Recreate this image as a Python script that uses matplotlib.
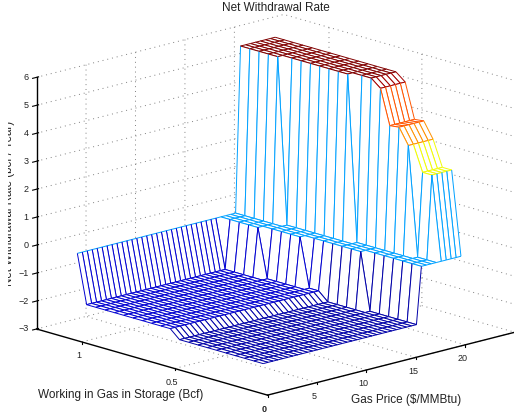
import matplotlib
matplotlib.use("Agg")
import matplotlib.pyplot as plt
import numpy as np
from matplotlib.transforms import Bbox
from mpl_toolkits.mplot3d import proj3d
from mpl_toolkits.mplot3d.art3d import Line3DCollection, Poly3DCollection

plt.rcParams['font.family'] = ['Liberation Sans', 'DejaVu Sans']

# grid
price = [2.0 + 0.5 * k for k in range(41)]
storage = [1.13, 1.08, 1.03, 0.98, 0.93, 0.88, 0.83, 0.78, 0.73, 0.68, 0.63,
           0.58, 0.53, 0.48, 0.43, 0.38, 0.33, 0.28, 0.23, 0.18, 0.13]

# per storage row: level of the floor, price where the floor ends,
# price where the upper shelf starts and the level of that shelf
floor_level = [-0.26, -2.0, -2.0, -2.0, -2.0, -2.0, -2.0, -2.0, -2.0, -2.0, -2.0,
               -2.3, -2.3, -2.3, -2.3, -2.3, -2.3, -2.3, -2.3, -2.3, -2.3]
floor_end = [16.0, 16.0, 16.0, 16.0, 16.0, 16.5, 16.5, 16.5, 16.5, 17.0, 17.0,
             17.0, 17.0, 17.0, 17.0, 17.5, 17.5, 17.5, 17.5, 17.5, 17.5]
shelf_start = [18.5, 18.5, 18.5, 18.5, 18.5, 19.0, 19.0, 19.0, 19.0, 19.0, 19.0,
               19.0, 19.5, 19.5, 19.5, 19.5, 19.5, 19.5, 20.0, 20.0, 22.5]
shelf_level = [5.67, 5.67, 5.67, 5.67, 5.67, 5.67, 5.67, 5.67, 5.67, 5.67, 5.67,
               5.67, 5.67, 5.67, 5.4, 4.16, 4.2, 3.64, 2.73, 2.73, -0.26]
ledge_level = -0.26

x_ticks = [5, 10, 15, 20]
x_tick_labels = ['5', '10', '15', '20']
y_ticks = [0, 0.5, 1]
y_tick_labels = ['0', '0.5', '1']
z_ticks = [-3, -2, -1, 0, 1, 2, 3, 4, 5, 6]
z_tick_labels = ['\u22123', '\u22122', '\u22121', '0', '1', '2', '3', '4', '5', '6']


def build_rate():
    rate = np.zeros((len(storage), len(price)))
    for i in range(len(storage)):
        for j, p in enumerate(price):
            if p <= floor_end[i]:
                rate[i, j] = floor_level[i]
            elif p < shelf_start[i]:
                rate[i, j] = ledge_level
            else:
                rate[i, j] = shelf_level[i]
    return rate


def tick_label(ax, where, text, offset, **kw):
    px, py, _ = proj3d.proj_transform(*where, ax.get_proj())
    ax.annotate(text, (px, py), xytext=offset, textcoords='offset pixels', fontsize=6.5,
                color='#222222', va='center', annotation_clip=False, zorder=5000, **kw)


def main():
    rate = build_rate()
    colors = plt.get_cmap('jet')
    low, high = -2.6, rate.max()

    fig = plt.figure(figsize=(5.14, 4.16), dpi=100)
    ax = fig.add_axes([0.0254, -0.0058, 1, 1], projection='3d', proj_type='ortho')
    ax.computed_zorder = False
    ax.set_box_aspect((338, 335, 260), zoom=1.272)
    ax.view_init(elev=15.66, azim=-133.3)
    ax.set_xlim(0, 25)
    ax.set_ylim(0, 1.243)
    ax.set_zlim(-3, 6)

    # painter's order, far corner first
    order = 10
    for i in range(len(storage) - 1):
        for j in range(len(price) - 2, -1, -1):
            corners = [(price[j], storage[i], rate[i, j]),
                       (price[j + 1], storage[i], rate[i, j + 1]),
                       (price[j + 1], storage[i + 1], rate[i + 1, j + 1]),
                       (price[j], storage[i + 1], rate[i + 1, j])]
            ax.add_collection3d(Poly3DCollection([corners], facecolor='white',
                                                 edgecolor='none', zorder=order))
            edges = [[corners[k], corners[(k + 1) % 4]] for k in range(4)]
            edge_colors = [colors((min(e[0][2], e[1][2]) - low) / (high - low)) for e in edges]
            ax.add_collection3d(Line3DCollection(edges, colors=edge_colors, linewidths=0.7,
                                                 zorder=order + 1))
            order += 2

    for axis in (ax.xaxis, ax.yaxis, ax.zaxis):
        axis.set_pane_color((1, 1, 1, 0))
        axis.pane.set_edgecolor('none')
        axis._axinfo['grid'].update(color='#808080', linewidth=0.7, linestyle=(0, (1, 4)))
        axis.line.set_linewidth(1.0)
    # floor ticks stand upright in the reference
    for axis in (ax.xaxis, ax.yaxis):
        axis._get_tickdir = lambda position: 2
        axis._axinfo['tick'].update(inward_factor=0.0, outward_factor=0.09)
    ax.set_xticks(x_ticks)
    ax.set_yticks(y_ticks)
    ax.set_zticks(z_ticks)
    ax.set_xticklabels([])
    ax.set_yticklabels([])
    ax.set_zticklabels([])

    for value, text in zip(x_ticks, x_tick_labels):
        tick_label(ax, (value, 0, -3), text, (-3, -14), ha='center')
    for value, text in zip(y_ticks, y_tick_labels):
        weight = 'bold' if value == 0 else 'normal'
        tick_label(ax, (0, value, -3), text, (-3, -14), ha='center', fontweight=weight)
    for value, text in zip(z_ticks, z_tick_labels):
        tick_label(ax, (0, 1.243, value), text, (-8, 0), ha='right')

    fig.text(0.536, 0.981, 'Net Withdrawal Rate', fontsize=8.45, color='#222222', ha='center', va='center')
    fig.text(0.235, 0.0505, 'Working in Gas in Storage (Bcf)', fontsize=8.5, color='#222222',
             ha='center', va='center')
    fig.text(0.79, 0.038, 'Gas Price ($/MMBtu)', fontsize=8.5, color='#222222', ha='center', va='center')
    # the left half of this label falls off the reference's drawing area
    fig.text(15 / 514, 0.51, 'Net Withdrawal Rate (bcf / Year)', fontsize=8.3, rotation=90, color='#222222',
             ha='right', va='center', clip_on=True, clip_box=Bbox([[8, 0], [514, 416]]))

    fig.savefig('out.png', dpi=100)


if __name__ == "__main__":
    main()
